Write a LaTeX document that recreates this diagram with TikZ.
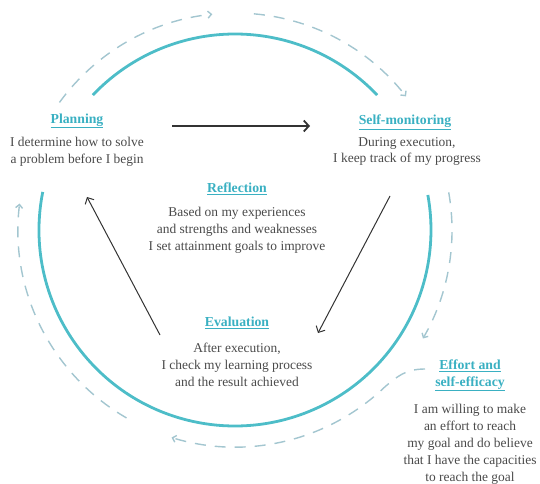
\documentclass[tikz,border=0pt]{standalone}
\usepackage{fontspec}
\setmainfont{Liberation Serif}
\usetikzlibrary{arrows.meta}
\definecolor{tealc}{HTML}{4DBDC8}
\definecolor{dashc}{HTML}{A3C6D0}
\definecolor{titlec}{HTML}{3AB0C2}
\definecolor{textc}{HTML}{4A4A4A}
\definecolor{arrc}{HTML}{333333}
\begin{document}
\begin{tikzpicture}[x=1bp,y=1bp,
  title/.style={text=titlec, font=\fontsize{13.8}{17}\selectfont\bfseries, inner sep=0pt, align=center},
  body/.style={text=textc, align=center, font=\fontsize{13.5}{17}\selectfont, inner sep=0pt},
  ring/.style={draw=tealc, line width=2.8bp},
  dring/.style={draw=dashc, line width=1.4bp, dash pattern=on 11bp off 9bp},
  dtip/.style={-{Straight Barb[length=3.5bp,width=7bp]}},
  conn/.style={draw=arrc, line width=1bp, -{Straight Barb[length=5bp,width=10bp]}},
  bigconn/.style={draw=arrc, line width=1.8bp, -{Straight Barb[length=5bp,width=11bp]}},
]
\path[use as bounding box] (0,0) rectangle (540,-484);
\coordinate (c) at (235,-230);

% solid ring
\draw[ring] (c) ++(136.5:196) arc[start angle=136.5,end angle=43.5,radius=196];
\draw[ring] (c) ++(168.8:196) arc[start angle=168.8,end angle=370.3,radius=196];

% dashed outer ring
\draw[dring,dtip] (c) ++(144:217) arc[start angle=144,end angle=96,radius=217];
\draw[dring,dtip] (c) ++(85:217) arc[start angle=85,end angle=38,radius=217];
\draw[dring,dtip] (c) ++(10:217) arc[start angle=10,end angle=-30,radius=217];
\coordinate (es) at (425,-369);
\coordinate (ej) at (385.7,-386.1);
\draw[dring,dtip] (es) .. controls (405,-369) and (397,-377) .. (ej) arc[start angle=314,end angle=253,radius=217];
\draw[dring,dtip] (c) ++(240:217) arc[start angle=240,end angle=173,radius=217];

% texts
\node[title] (plan) at (77,-121) {\underline{Planning}};
\node[body] (planb) at (77,-151.5) {I determine how to solve\\a problem before I begin};
\node[title] (mon) at (405,-122) {\underline{Self-monitoring}};
\node[body] (monb) at (407,-151.5) {During execution,\\I keep track of my progress};
\node[title] (refl) at (237,-189) {\underline{Reflection}};
\node[body] (reflb) at (237,-230) {Based on my experiences\\and strengths and weaknesses\\I set attainment goals to improve};
\node[title] (eval) at (237,-323) {\underline{Evaluation}};
\node[body] (evalb) at (237,-365) {After execution,\\I check my learning process\\and the result achieved};
\node[title] (eff) at (470,-375.5) {\underline{Effort and}\\\underline{self-efficacy}};
\node[body] (effb) at (470,-444) {I am willing to make\\an effort to reach\\my goal and do believe\\that I have the capacities\\to reach the goal};

% connectors
\coordinate (p1) at (172,-126);
\coordinate (m1) at (310,-126);
\coordinate (m2) at (390,-196);
\coordinate (e1) at (318,-333);
\coordinate (e2) at (160,-335);
\coordinate (p2) at (87,-197);
\draw[bigconn] (p1) -- (m1);
\draw[conn] (m2) -- (e1);
\draw[conn] (e2) -- (p2);
\end{tikzpicture}
\end{document}
